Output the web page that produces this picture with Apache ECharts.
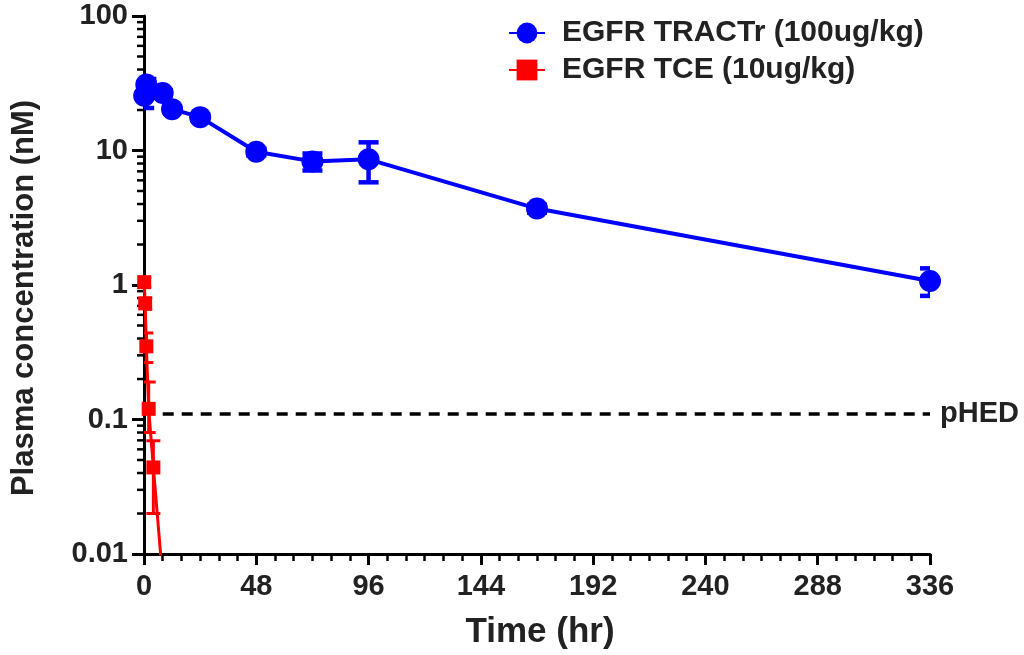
<!DOCTYPE html>
<html>
<head>
<meta charset="utf-8">
<script src="https://cdn.jsdelivr.net/npm/echarts@6/dist/echarts.min.js"></script>
<style>
html,body{margin:0;padding:0;background:#fff;}
#chart{width:1024px;height:655px;}
</style>
</head>
<body>
<div id="chart"></div>
<script>
// ---- data ----
const tractrName = 'EGFR TRACTr (100ug/kg)';
const tceName = 'EGFR TCE (10ug/kg)';
const tractrTime = [0.083, 1, 8, 12, 24, 48, 72, 96, 168, 336];
const tractrConc = [25.5, 31, 26.8, 20.3, 17.7, 9.8, 8.3, 8.6, 3.7, 1.07];
const tractrLow  = [20.7, 28, 25.5, 19.3, 16.8, 9.2, 7.1, 5.8, 3.45, 0.83];
const tractrHigh = [30.3, 34, 28.1, 21.3, 18.6, 10.4, 9.5, 11.5, 3.95, 1.33];
const tceTime = [0.083, 0.5, 1, 2, 4, 8];
const tceConc = [1.05, 0.73, 0.35, 0.12, 0.044, 0.0065];
const tceLow  = [0.97, 0.66, 0.265, 0.08, 0.020, 0.0065];
const tceHigh = [1.13, 0.80, 0.44, 0.19, 0.0695, 0.0065];
const phedValue = 0.11;
const phedRange = [8, 336];
const xTicks = [0, 48, 96, 144, 192, 240, 288, 336];
const yTickLabels = ['0.01', '0.1', '1', '10', '100'];
const yDecades = [0.01, 0.1, 1, 10];
const minorMultipliers = [2, 3, 4, 5, 6, 7, 8, 9];

// ---- build ----
const FONT = "'Liberation Sans', Arial, Helvetica, sans-serif";
const TXT = '#222222';
const blue = '#0000ff';
const red = '#ff0000';

const pts = (xs, ys) => xs.map((x, i) => [x, ys[i]]);
const errData = (xs, lo, hi) => xs.map((x, i) => [x, lo[i], hi[i]]);
const minorTicks = [];
yDecades.forEach(d => minorMultipliers.forEach(m => minorTicks.push([0, d * m])));

function errRender(color, capHalf, lw) {
  return function (params, api) {
    const x = api.value(0);
    const lo = api.coord([x, api.value(1)]);
    const hi = api.coord([x, api.value(2)]);
    const st = { stroke: color, lineWidth: lw };
    return {
      type: 'group',
      children: [
        { type: 'line', shape: { x1: lo[0], y1: lo[1], x2: hi[0], y2: hi[1] }, style: st },
        { type: 'line', shape: { x1: lo[0] - capHalf, y1: lo[1], x2: lo[0] + capHalf, y2: lo[1] }, style: st },
        { type: 'line', shape: { x1: hi[0] - capHalf, y1: hi[1], x2: hi[0] + capHalf, y2: hi[1] }, style: st }
      ]
    };
  };
}

const chart = echarts.init(document.getElementById('chart'));
chart.setOption({
  animation: false,
  backgroundColor: '#fff',
  textStyle: { fontFamily: FONT },
  grid: { left: 144, right: 94, top: 16, bottom: 99, containLabel: false },
  legend: {
    data: [tractrName, tceName],
    orient: 'vertical',
    left: 503,
    top: 13,
    itemWidth: 36,
    itemHeight: 26,
    itemGap: 7,
    textStyle: { fontFamily: FONT, fontSize: 30, fontWeight: 'bold', color: TXT, padding: [0, 0, 0, 12] }
  },
  xAxis: {
    type: 'value',
    min: 0,
    max: 336,
    interval: 48,
    name: 'Time (hr)',
    nameLocation: 'middle',
    nameGap: 61,
    nameTextStyle: { fontFamily: FONT, fontSize: 35, fontWeight: 'bold', color: TXT, padding: [0, 0, 0, 6] },
    axisLine: { onZero: false, lineStyle: { color: '#000', width: 3 } },
    axisTick: { show: true, length: 11, lineStyle: { color: '#000', width: 3 } },
    minorTick: { show: true, splitNumber: 6, length: 7, lineStyle: { color: '#000', width: 2.5 } },
    splitLine: { show: false },
    axisLabel: {
      margin: 18,
      fontFamily: FONT, fontSize: 29, fontWeight: 'bold', color: TXT,
      customValues: xTicks
    }
  },
  yAxis: {
    type: 'log',
    logBase: 10,
    min: 0.01,
    max: 100,
    name: 'Plasma concentration (nM)',
    nameLocation: 'middle',
    nameGap: 104,
    nameTextStyle: { fontFamily: FONT, fontSize: 31, fontWeight: 'bold', color: TXT, padding: [0, 26, 0, 0] },
    axisLine: { show: true, lineStyle: { color: '#000', width: 3 } },
    axisTick: { show: true, length: 12, lineStyle: { color: '#000', width: 3 } },
    splitLine: { show: false },
    axisLabel: {
      margin: 16,
      fontFamily: FONT, fontSize: 29, fontWeight: 'bold', color: TXT,
      formatter: function (v) {
        const k = Math.round(Math.log10(v)) + 2;
        return yTickLabels[k] !== undefined ? yTickLabels[k] : '';
      }
    }
  },
  series: [
    {
      name: 'yMinorTicks',
      type: 'custom',
      silent: true,
      clip: false,
      z: 1,
      data: minorTicks,
      renderItem: function (params, api) {
        const p = api.coord([0, api.value(1)]);
        return { type: 'line', shape: { x1: p[0] - 7, y1: p[1], x2: p[0], y2: p[1] }, style: { stroke: '#000', lineWidth: 2.5 } };
      }
    },
    {
      name: 'pHED',
      type: 'line',
      silent: true,
      symbol: 'none',
      data: phedRange.map(x => [x, phedValue]),
      lineStyle: { color: '#000', width: 3.5, type: [11, 8] },
      endLabel: {
        show: true,
        formatter: 'pHED',
        distance: 10,
        fontFamily: FONT, fontSize: 29, fontWeight: 'bold', color: TXT
      },
      z: 2
    },
    {
      name: 'tractrErr',
      type: 'custom',
      silent: true,
      clip: true,
      z: 3,
      data: errData(tractrTime, tractrLow, tractrHigh),
      renderItem: errRender(blue, 10, 4.5)
    },
    {
      name: tractrName,
      type: 'line',
      data: pts(tractrTime, tractrConc),
      symbol: 'circle',
      symbolSize: 22,
      itemStyle: { color: blue },
      lineStyle: { color: blue, width: 4 },
      z: 4
    },
    {
      name: 'tceErr',
      type: 'custom',
      silent: true,
      clip: true,
      z: 5,
      data: errData(tceTime, tceLow, tceHigh),
      renderItem: errRender(red, 7, 3)
    },
    {
      name: tceName,
      type: 'line',
      data: pts(tceTime, tceConc),
      symbol: 'rect',
      symbolSize: 14,
      itemStyle: { color: red },
      lineStyle: { color: red, width: 3 },
      clip: true,
      z: 6
    }
  ]
});
</script>
</body>
</html>
